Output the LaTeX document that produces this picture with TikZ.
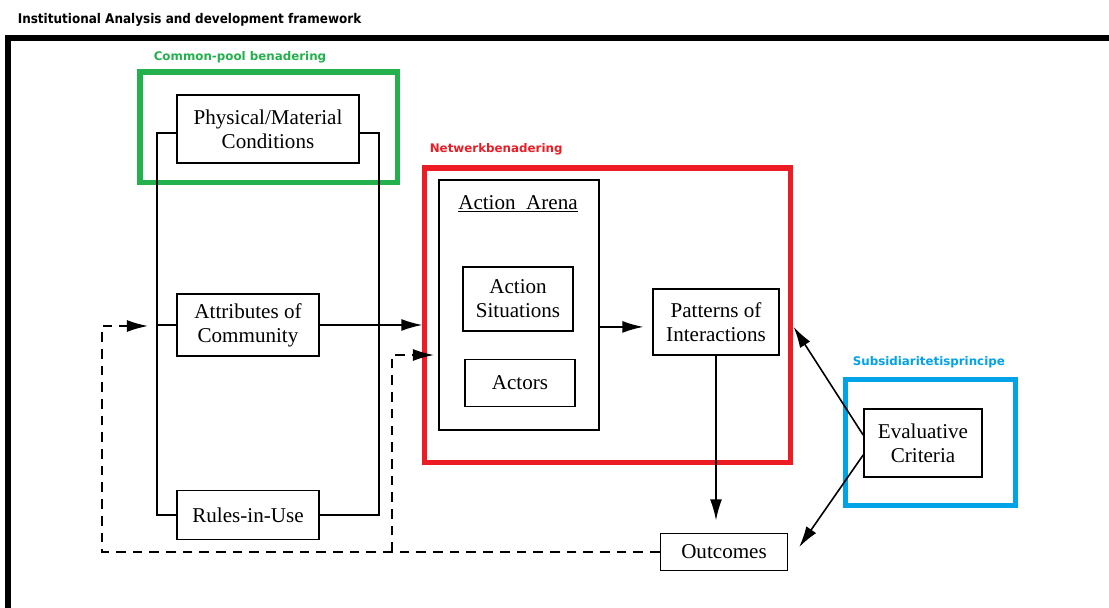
\documentclass[tikz,border=0pt]{standalone}
\usepackage{fontspec}
\setmainfont{Liberation Serif}
\newfontfamily\labelfont{DejaVu Sans}
\newfontfamily\titlefont[FakeStretch=0.9]{DejaVu Sans}
\usetikzlibrary{arrows.meta,positioning}

\definecolor{cpgreen}{HTML}{22B14C}
\definecolor{netred}{HTML}{ED1C24}
\definecolor{subblue}{HTML}{00A2E8}

\begin{document}
\begin{tikzpicture}[x=0.02cm,y=-0.02cm,>={Latex[length=12pt,width=6.8pt]},line width=0.9pt,
                    box/.style={draw,align=center,inner sep=0pt,font=\fontsize{12}{13.6}\selectfont},
                    hilite/.style={draw=#1,line width=2.9pt,inner sep=0pt},
                    tag/.style={anchor=west,inner sep=0pt,font=\labelfont\bfseries\fontsize{6.75}{8}\selectfont},
                    feedback/.style={dash pattern=on 5.5pt off 4pt}]
                \useasboundingbox (0,0) rectangle (1109,608);
                % outer frame and title
                \draw[line width=3.4pt] (8,608) -- (8,38) -- (1109,38);
                \node[anchor=west,inner sep=0pt,font=\titlefont\bfseries\fontsize{7.6}{9}\selectfont] (title) at (17,20)
                    {Institutional Analysis and development framework};
                % boxes
                \node[box,minimum width=3.64cm,minimum height=1.36cm] (phys) at (268,129) {Physical/Material\\Conditions};
                \node[box,minimum width=2.84cm,minimum height=1.24cm] (attr) at (248,325) {Attributes of\\Community};
                \node[box,minimum width=2.84cm,minimum height=0.98cm] (rules) at (248,515) {Rules-in-Use};
                \node[box,minimum width=3.2cm,minimum height=5cm] (arena) at (519,305) {};
                \node[font=\fontsize{12}{13.6}\selectfont,inner sep=0pt] (arenalbl) at (518,204) {\underline{Action\ \ Arena}};
                \node[box,minimum width=2.2cm,minimum height=1.28cm] (situ) at (518,299) {Action\\Situations};
                \node[box,minimum width=2.2cm,minimum height=0.94cm] (actors) at (520,383) {Actors};
                \node[box,minimum width=2.52cm,minimum height=1.32cm] (patt) at (716,322) {Patterns of\\Interactions};
                \node[box,minimum width=2.54cm,minimum height=0.74cm] (outc) at (724,552) {Outcomes};
                \node[box,minimum width=2.36cm,minimum height=1.36cm] (eval) at (923,443) {Evaluative\\Criteria};
                % coloured highlights
                \node[hilite=cpgreen,minimum width=5.15cm,minimum height=2.21cm] (cpbox) at (268.75,127.25) {};
                \node[hilite=netred,minimum width=7.32cm,minimum height=5.89cm] (netbox) at (607.5,315.25) {};
                \node[hilite=subblue,minimum width=3.4cm,minimum height=2.52cm] (subbox) at (930.5,442.5) {};
                \node[tag,text=cpgreen] (cplbl) at (153,57) {Common-pool benadering};
                \node[tag,text=netred] (netlbl) at (429,149) {Netwerkbenadering};
                \node[tag,text=subblue] (sublbl) at (852,362) {Subsidiaritetisprincipe};
                % links
                \draw ([yshift=-2.3pt]phys.west) -- ++(-19,0) |- (rules.west);
                \draw ([yshift=-2.3pt]phys.east) -- ++(19,0) |- (rules.east);
                \draw (attr.west) -- ++(-19,0);
                \draw[->,shorten >=9pt] (attr.east) -- (attr.east -| arena.west);
                \coordinate (pin) at ([yshift=-2.8pt]patt.west);
                \draw[->,shorten >=5pt] (pin -| arena.east) -- (pin);
                \draw[->,shorten >=7pt] (patt.south) -- (patt.south |- outc.north);
                \draw[->] ([yshift=4.5pt]eval.west) -- ([xshift=7.9pt,yshift=-2.8pt]patt.east);
                \draw[->] ([yshift=-6.8pt]eval.west) -- ([xshift=6.2pt,yshift=2.8pt]outc.east);
                % feedback
                \coordinate (fbL) at (102,552);
                \coordinate (fbM) at (392,552);
                \coordinate (fbin) at (148,326);
                \coordinate (fbin2) at (434,355);
                \draw[feedback,->] (outc.west) -- (fbL) |- (fbin);
                \draw[feedback,->] (fbM) |- (fbin2);
\end{tikzpicture}
\end{document}
